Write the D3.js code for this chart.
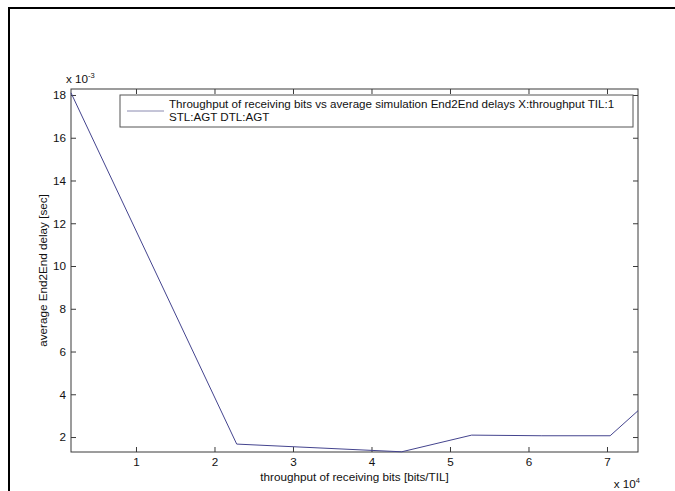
<!DOCTYPE html>
<html>
<head>
<meta charset="utf-8">
<script src="https://cdn.jsdelivr.net/npm/d3@7"></script>
<style>
  html, body { margin: 0; padding: 0; background: #fff; }
  svg { display: block; font-family: "Liberation Sans", Arial, sans-serif; }
</style>
</head>
<body>
<svg id="chart" width="675" height="491"></svg>
<script>
// Throughput of receiving bits [bits/TIL] vs average End2End delay [sec]
const throughput = [1720, 22830, 43850, 52760, 61700, 70400, 73950];
const delay = [0.0181, 0.00167, 0.00131, 0.00209, 0.00206, 0.00206, 0.00323];

const xTicks = [10000, 20000, 30000, 40000, 50000, 60000, 70000];
const yTicks = [0.002, 0.004, 0.006, 0.008, 0.010, 0.012, 0.014, 0.016, 0.018];

const legendLines = [
  "Throughput of receiving bits vs average simulation End2End delays X:throughput TIL:1",
  "STL:AGT DTL:AGT"
];
const xTitle = "throughput of receiving bits [bits/TIL]";
const yTitle = "average End2End delay [sec]";

const svg = d3.select("#chart");
const plot = { left: 71, right: 638, top: 89, bottom: 452 };
const lineColor = "#44448e";
const axisColor = "#3a3a3a";
const fontSize = "11.7px";

// outer frame of the figure
svg.append("rect")
  .attr("x", 9).attr("y", 8)
  .attr("width", 720).attr("height", 520)
  .attr("fill", "none").attr("stroke", "#000").attr("stroke-width", 2);

const x = d3.scaleLinear().domain([1720, 73950]).range([plot.left, plot.right]);
const y = d3.scaleLinear().domain([0.00130, 0.01828]).range([plot.bottom, plot.top]);

const tickLen = 5;
const fmtX = d => String(Math.round(d / 1e4));
const fmtY = d => String(Math.round(d * 1e3));

function styleAxis(g, showLabels) {
  g.select(".domain").remove();
  g.selectAll(".tick line").attr("stroke", axisColor).attr("stroke-width", 1);
  g.selectAll(".tick text")
    .attr("fill", "#111")
    .style("font-size", fontSize)
    .style("display", showLabels ? null : "none");
}

// bottom and top axes (ticks point inward)
svg.append("g")
  .attr("transform", `translate(0,${plot.bottom})`)
  .call(d3.axisBottom(x).tickValues(xTicks).tickFormat(fmtX).tickSizeInner(-tickLen).tickSizeOuter(0).tickPadding(6))
  .call(g => styleAxis(g, true));
svg.append("g")
  .attr("transform", `translate(0,${plot.top})`)
  .call(d3.axisTop(x).tickValues(xTicks).tickSizeInner(-tickLen).tickSizeOuter(0))
  .call(g => styleAxis(g, false));

// left and right axes
svg.append("g")
  .attr("transform", `translate(${plot.left},0)`)
  .call(d3.axisLeft(y).tickValues(yTicks).tickFormat(fmtY).tickSizeInner(-tickLen).tickSizeOuter(0).tickPadding(5))
  .call(g => styleAxis(g, true));
svg.append("g")
  .attr("transform", `translate(${plot.right},0)`)
  .call(d3.axisRight(y).tickValues(yTicks).tickSizeInner(-tickLen).tickSizeOuter(0))
  .call(g => styleAxis(g, false));

// axes box
svg.append("rect")
  .attr("x", plot.left).attr("y", plot.top)
  .attr("width", plot.right - plot.left).attr("height", plot.bottom - plot.top)
  .attr("fill", "none").attr("stroke", axisColor).attr("stroke-width", 1);

// data line
const line = d3.line().x(d => x(d[0])).y(d => y(d[1]));
svg.append("path")
  .datum(d3.zip(throughput, delay))
  .attr("d", line)
  .attr("fill", "none")
  .attr("stroke", lineColor)
  .attr("stroke-width", 1);

// exponent labels
const yExp = svg.append("text").attr("x", 66).attr("y", 83)
  .style("font-size", fontSize).attr("fill", "#111");
yExp.append("tspan").text("x 10");
yExp.append("tspan").attr("dy", -5).style("font-size", "7.5px").text("-3");

const xExp = svg.append("text").attr("x", plot.right + 2).attr("y", 488)
  .attr("text-anchor", "end").style("font-size", fontSize).attr("fill", "#111");
xExp.append("tspan").text("x 10");
xExp.append("tspan").attr("dy", -5).style("font-size", "7.5px").text("4");

// axis titles
svg.append("text")
  .attr("x", (plot.left + plot.right) / 2).attr("y", 481)
  .attr("text-anchor", "middle").style("font-size", fontSize).attr("fill", "#111")
  .text(xTitle);
svg.append("text")
  .attr("transform", `translate(47,${(plot.top + plot.bottom) / 2}) rotate(-90)`)
  .attr("text-anchor", "middle").style("font-size", fontSize).attr("fill", "#111")
  .text(yTitle);

// legend
const legend = svg.append("g");
legend.append("rect")
  .attr("x", 120).attr("y", 95).attr("width", 513).attr("height", 32)
  .attr("fill", "#fff").attr("stroke", "#555").attr("stroke-width", 1);
legend.append("line")
  .attr("x1", 127).attr("x2", 164).attr("y1", 111).attr("y2", 111)
  .attr("stroke", "#8a8ab0").attr("stroke-width", 1);
legend.selectAll("text.entry")
  .data(legendLines)
  .join("text")
  .attr("class", "entry")
  .attr("x", 169)
  .attr("y", (d, i) => 108 + i * 13)
  .style("font-size", "11.6px").attr("fill", "#111")
  .text(d => d);
</script>
</body>
</html>
